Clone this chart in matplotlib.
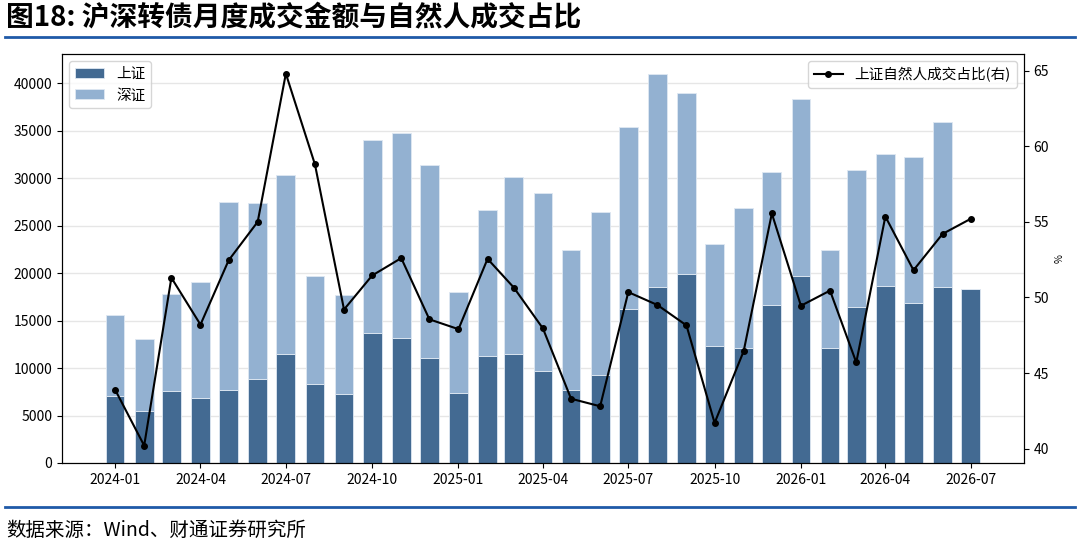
import matplotlib
matplotlib.use("Agg")
import matplotlib.pyplot as plt
import matplotlib.dates as mdates
import pandas as pd

plt.rcParams['font.family'] = ['Noto Sans CJK SC', 'DejaVu Sans']
plt.rcParams['axes.unicode_minus'] = False

# 月度数据
months = pd.date_range("2024-01-01", "2026-07-01", freq="MS")
sh_amount = [7100, 5500, 7600, 6800, 7700, 8850, 11450, 8300, 7250,
             13650, 13200, 11050, 7400, 11250, 11450, 9700, 7650, 9250,
             16200, 18500, 19950, 12300, 12100, 16650, 19750, 12100,
             16400, 18700, 16850, 18550, 18300]
total_amount = [15550, 13100, 17800, 19050, 27550, 27400, 30350, 19750, 17750,
                34050, 34800, 31350, 18000, 26650, 30150, 28450, 22450, 26500,
                35450, 40950, 38950, 23050, 26900, 30650, 38400, 22450,
                30850, 32550, 32200, 35950, 18300]
sz_amount = [t - s for t, s in zip(total_amount, sh_amount)]
natural_ratio = [43.9, 40.2, 51.3, 48.2, 52.45, 55.0, 64.8, 58.8, 49.2,
                 51.45, 52.6, 48.55, 47.9, 52.55, 50.65, 47.95, 43.3, 42.8,
                 50.35, 49.5, 48.15, 41.7, 46.45, 55.55, 49.45, 50.45,
                 45.7, 55.35, 51.8, 54.2, 55.2]

fig = plt.figure(figsize=(10.8, 5.42), dpi=100)
ax = fig.add_axes([0.0574, 0.1458, 0.8906, 0.7546])
ax2 = ax.twinx()

ax.bar(months, sh_amount, width=20, color='#436a92', edgecolor='#dfe8f2',
       linewidth=0.6, label='上证', zorder=2)
ax.bar(months, sz_amount, width=20, bottom=sh_amount, color='#93b1d1',
       edgecolor='#dfe8f2', linewidth=0.6, label='深证', zorder=2)
ax.grid(axis='y', color='#e6e6e6', linewidth=1, zorder=0)
ax.set_axisbelow(True)

ax2.plot(months, natural_ratio, color='black', marker='o', markersize=4,
         linewidth=1.5, label='上证自然人成交占比(右)')
ax2.set_ylabel('%', fontsize=7)

ax.xaxis.set_major_locator(mdates.MonthLocator(bymonth=[1, 4, 7, 10]))
ax.xaxis.set_major_formatter(mdates.DateFormatter('%Y-%m'))
ax.set_ylim(0, 43100)
ax2.set_ylim(39.05, 66.1)
ax.tick_params(labelsize=10)
ax2.tick_params(labelsize=10)

ax.legend(loc='upper left', fontsize=10.5)
ax2.legend(loc='upper right', fontsize=10.5)

# 标题与来源
fig.text(0.006, 0.966, '图18: 沪深转债月度成交金额与自然人成交占比', fontsize=20,
         fontweight='bold', va='center', ha='left')
fig.add_artist(plt.Line2D([0.005, 0.995], [0.931, 0.931], color='#1f5aa8', linewidth=2))
fig.add_artist(plt.Line2D([0.005, 0.995], [0.064, 0.064], color='#1f5aa8', linewidth=2))
fig.text(0.006, 0.022, '数据来源：Wind、财通证券研究所', fontsize=14, va='center', ha='left')

fig.savefig('out.png', dpi=100)
